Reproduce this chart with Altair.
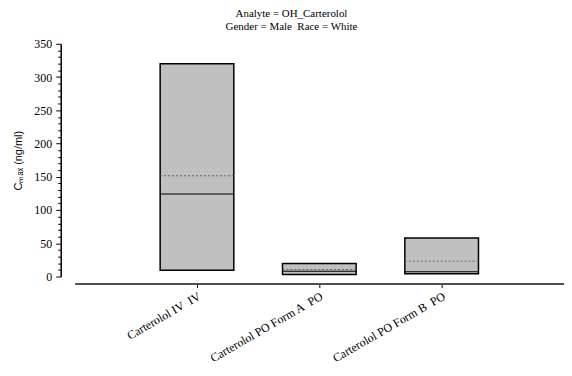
import altair as alt
import pandas as pd

categories = ["Carterolol IV\u00a0 IV", "Carterolol PO Form A\u00a0 PO", "Carterolol PO Form B\u00a0 PO"]
box_low = [9.5, 3, 4]
box_high = [320, 19.5, 58]
medians = [124, 8, 7]
means = [151.5, 10.5, 23]
y_ticks = list(range(0, 351, 10))
title_lines = ["Analyte = OH_Carterolol", "Gender = Male\u00a0 Race = White"]

df = pd.DataFrame({
    "cat": categories,
    "low": box_low,
    "high": box_high,
    "median": medians,
    "mean": means,
})

serif = "Liberation Serif"
sans = "Liberation Sans"

x_axis = alt.Axis(
    title=None,
    labelAngle=-30,
    labelFont=serif,
    labelFontSize=12,
    labelColor="black",
    labelPadding=3,
    tickSize=4,
    tickColor="black",
    tickWidth=1,
    domainColor="#505050",
    domainWidth=2,
    offset=7,
)
x_scale = alt.Scale(paddingInner=0.398, paddingOuter=0.699)

y_axis = alt.Axis(
    title="Cₘₐₓ (ng/ml)",
    titleFont=sans,
    titleFontSize=11,
    titleFontWeight="normal",
    titleColor="black",
    titlePadding=10,
    values=y_ticks,
    labelExpr="datum.value % 50 == 0 ? datum.label : ''",
    labelOverlap=False,
    labelFlush=False,
    labelFont=serif,
    labelFontSize=12,
    labelColor="black",
    labelPadding=4,
    tickColor="black",
    tickWidth=1,
    tickSize=alt.condition("datum.value % 50 == 0", alt.value(5), alt.value(3)),
    domainColor="black",
    domainWidth=1.5,
    grid=False,
    offset=14,
)
y_scale = alt.Scale(domain=[0, 350], nice=False, zero=True)


def xe(band=None):
    if band is None:
        return alt.X("cat:N", sort=categories, scale=x_scale, axis=x_axis)
    return alt.X("cat:N", sort=categories, scale=x_scale, axis=x_axis, bandPosition=band)


def ye(field):
    return alt.Y(field, type="quantitative", scale=y_scale, axis=y_axis, title="Cₘₐₓ (ng/ml)")


boxes = alt.Chart(df).mark_bar(
    color="#c0c0c0", stroke="black", strokeWidth=1.5
).encode(
    x=xe(),
    y=ye("low"),
    y2="high:Q",
)

median_ticks = alt.Chart(df).mark_tick(
    color="black", size=74, thickness=1, orient="horizontal", opacity=1
).encode(
    x=xe(),
    y=ye("median"),
)

mean_lines = alt.Chart(df).mark_rule(
    color="#606060", strokeWidth=1, strokeDash=[2, 2]
).encode(
    x=xe(0),
    x2=alt.X2("cat", bandPosition=1),
    y=ye("mean"),
)

chart = alt.layer(boxes, median_ticks, mean_lines).properties(
    width=492,
    height=234,
    autosize=alt.AutoSizeParams(type="none"),
    padding={"left": 67, "top": 35, "right": 0, "bottom": 91},
    title=alt.TitleParams(
        text=title_lines,
        anchor="middle",
        dx=-28,
        offset=6,
        font=serif,
        fontSize=11,
        fontWeight="normal",
        color="black",
        lineHeight=13,
    ),
).configure_view(stroke=None)

chart.save("out.html", embed_options={"renderer": "svg", "actions": False})
